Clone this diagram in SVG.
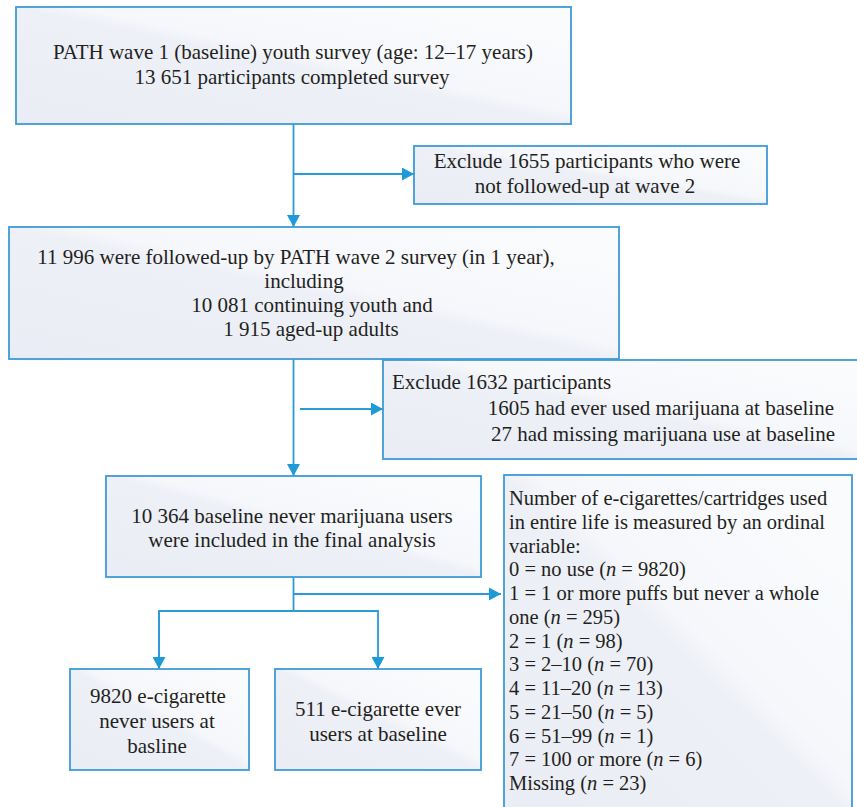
<svg xmlns="http://www.w3.org/2000/svg" width="857" height="807" viewBox="0 0 857 807">
<defs>
<linearGradient id="fill" x1="0" y1="1" x2="1" y2="0">
<stop offset="0" stop-color="#eaedf5"/>
<stop offset="0.5" stop-color="#eef0f7"/>
<stop offset="0.55" stop-color="#f6f7fb"/>
<stop offset="1" stop-color="#fbfcfd"/>
</linearGradient>
<marker id="arr" markerUnits="userSpaceOnUse" markerWidth="13" markerHeight="13" refX="12" refY="6.5" orient="auto">
<path d="M0,0 L12,6.5 L0,13 z" fill="#1f9ad8"/>
</marker>
<style>
.box{fill:url(#fill);stroke:#3d9bd6;stroke-width:1.8}
text{font-family:'Liberation Serif','Times New Roman',serif;font-size:21px;fill:#231f20}
.c{text-anchor:middle}
.e{text-anchor:end}
.s{font-size:20.5px}
.conn{fill:none;stroke:#2b9ad8;stroke-width:1.8}
</style>
</defs>
<rect width="857" height="807" fill="#ffffff"/>
<g id="connectors">
<path class="conn" d="M293.5,124 V227" marker-end="url(#arr)"/>
<path class="conn" d="M293.5,174 H414" marker-end="url(#arr)"/>
<path class="conn" d="M293.5,359 V476" marker-end="url(#arr)"/>
<path class="conn" d="M300,409 H383" marker-end="url(#arr)"/>
<path class="conn" d="M293.5,577 V611"/>
<path class="conn" d="M293.5,594 H501" marker-end="url(#arr)"/>
<path class="conn" d="M159,669 V611 H378 V669" marker-end="url(#arr)"/>
<path class="conn" d="M159,611 V669" marker-end="url(#arr)"/>
</g>
<g id="n1">
<rect class="box" x="16" y="7" width="555" height="117"/>
<text class="c" x="293" y="59">PATH wave 1 (baseline) youth survey (age: 12–17 years)</text>
<text class="c" x="292" y="84">13 651 participants completed survey</text>
</g>
<g id="n2">
<rect class="box" x="414" y="146" width="353" height="58"/>
<text class="c" x="587" y="168">Exclude 1655 participants who were</text>
<text class="c" x="585" y="193">not followed-up at wave 2</text>
</g>
<g id="n3">
<rect class="box" x="9" y="227" width="610" height="132"/>
<text class="c" x="296" y="264">11 996 were followed-up by PATH wave 2 survey (in 1 year),</text>
<text class="c" x="304" y="288">including</text>
<text class="c" x="312" y="312">10 081 continuing youth and</text>
<text class="c" x="311" y="336">1 915 aged-up adults</text>
</g>
<g id="n4">
<rect class="box" x="383" y="360" width="475" height="99"/>
<text x="392" y="389">Exclude 1632 participants</text>
<text class="e" x="834" y="415">1605 had ever used marijuana at baseline</text>
<text class="e" x="835" y="441">27 had missing marijuana use at baseline</text>
</g>
<g id="n5">
<rect class="box" x="106" y="476" width="375" height="101"/>
<text class="c" x="292" y="523">10 364 baseline never marijuana users</text>
<text class="c" x="292" y="547">were included in the final analysis</text>
</g>
<g id="n6">
<rect class="box" x="504" y="475" width="348" height="345"/>
<text class="s" x="509" y="505">Number of e-cigarettes/cartridges used</text>
<text class="s" x="509" y="528.75">in entire life is measured by an ordinal</text>
<text class="s" x="509" y="552.5">variable:</text>
<text class="s" x="509" y="576.25">0 = no use (<tspan font-style="italic">n</tspan> = 9820)</text>
<text class="s" x="509" y="600">1 = 1 or more puffs but never a whole</text>
<text class="s" x="509" y="623.75">one (<tspan font-style="italic">n</tspan> = 295)</text>
<text class="s" x="509" y="647.5">2 = 1 (<tspan font-style="italic">n</tspan> = 98)</text>
<text class="s" x="509" y="671.25">3 = 2–10 (<tspan font-style="italic">n</tspan> = 70)</text>
<text class="s" x="509" y="695">4 = 11–20 (<tspan font-style="italic">n</tspan> = 13)</text>
<text class="s" x="509" y="718.75">5 = 21–50 (<tspan font-style="italic">n</tspan> = 5)</text>
<text class="s" x="509" y="742.5">6 = 51–99 (<tspan font-style="italic">n</tspan> = 1)</text>
<text class="s" x="509" y="766.25">7 = 100 or more (<tspan font-style="italic">n</tspan> = 6)</text>
<text class="s" x="509" y="790">Missing (<tspan font-style="italic">n</tspan> = 23)</text>
</g>
<g id="n7">
<rect class="box" x="70" y="669" width="179" height="101"/>
<text class="c" x="158" y="703">9820 e-cigarette</text>
<text class="c" x="157" y="728">never users at</text>
<text class="c" x="157" y="753">basline</text>
</g>
<g id="n8">
<rect class="box" x="275" y="669" width="206" height="101"/>
<text class="c" x="378" y="716">511 e-cigarette ever</text>
<text class="c" x="378" y="741">users at baseline</text>
</g>
</svg>
